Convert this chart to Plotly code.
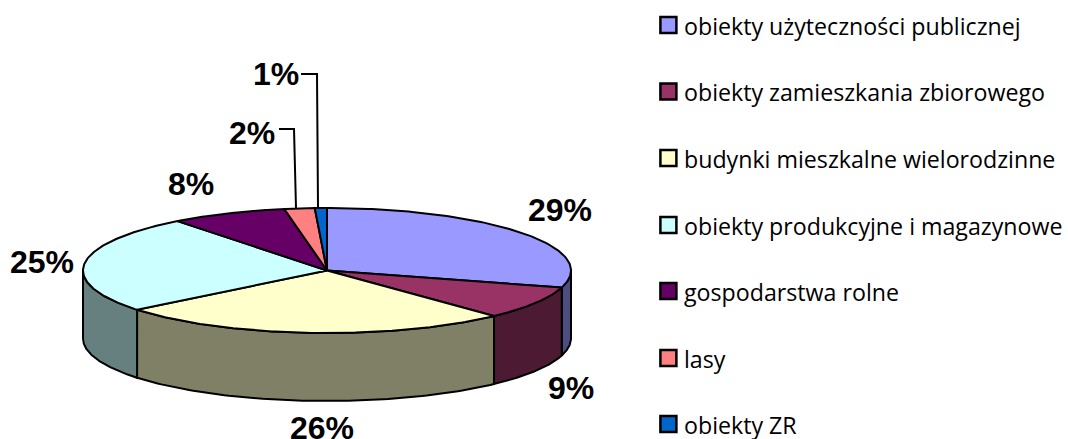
import numpy as np
import plotly.graph_objects as go

categories = ["obiekty użyteczności publicznej", "obiekty zamieszkania zbiorowego",
              "budynki mieszkalne wielorodzinne", "obiekty produkcyjne i magazynowe",
              "gospodarstwa rolne", "lasy", "obiekty ZR"]
shares = [29.4, 8.6, 26.2, 25.3, 7.7, 2.0, 0.8]
top_colors = ["#9999FF", "#993366", "#FFFFCC", "#CCFFFF", "#660066", "#FF8080", "#0066CC"]
side_colors = ["#4D4D80", "#4D1A33", "#808066", "#668080", "#330033", "#804040", "#003366"]
label_text = ["29%", "9%", "26%", "25%", "8%", "2%", "1%"]
label_x = [560, 571, 322, 42, 191, 252, 276]
label_y = [210, 388, 428, 262, 184, 133, 74]
legend_y = [25, 91.5, 158, 225, 291, 358, 424]

CX, CY, RX, RY, DEPTH = 327, 270.5, 244, 62.5, 68
W, H = 1068, 439
LW = 2


def px(theta, dy=0):
    return CX + RX * np.sin(theta), CY - RY * np.cos(theta) + dy


fig = go.Figure()
edges = np.concatenate([[0], np.cumsum(shares)]) / sum(shares) * 2 * np.pi

# side walls: only the front half of the rim is visible
for i in range(len(shares)):
    a, b = max(edges[i], np.pi / 2), min(edges[i + 1], 3 * np.pi / 2)
    if b <= a:
        continue
    t = np.linspace(a, b, 80)
    x1, y1 = px(t)
    x2, y2 = px(t[::-1], DEPTH)
    fig.add_trace(go.Scatter(x=np.r_[x1, x2, x1[0]], y=np.r_[y1, y2, y1[0]], mode="lines",
                             fill="toself", fillcolor=side_colors[i],
                             line=dict(color="black", width=LW), showlegend=False, hoverinfo="skip"))

# top face
for i in range(len(shares)):
    t = np.linspace(edges[i], edges[i + 1], 120)
    x1, y1 = px(t)
    fig.add_trace(go.Scatter(x=np.r_[CX, x1, CX], y=np.r_[CY, y1, CY], mode="lines",
                             fill="toself", fillcolor=top_colors[i],
                             line=dict(color="black", width=LW), showlegend=False,
                             name=categories[i], hoverinfo="name"))

# legend: swatches and names
for i, c in enumerate(categories):
    fig.add_trace(go.Scatter(x=[668.4], y=[legend_y[i]], mode="markers", name=c, showlegend=False,
                             marker=dict(symbol="square", size=16, color=top_colors[i],
                                         line=dict(color="black", width=2.5))))
    fig.add_annotation(x=682, y=legend_y[i] + 0.5, text=c, showarrow=False, xanchor="left",
                       font=dict(family="Open Sans", size=23.2, color="black"))

# leader lines
for lx, ly in ([[279, 294, 296], [129, 129, 208]], [[301, 317, 318], [74, 74, 207]]):
    fig.add_trace(go.Scatter(x=lx, y=ly, mode="lines", line=dict(color="black", width=LW),
                             showlegend=False, hoverinfo="skip"))

for tx, lxp, lyp in zip(label_text, label_x, label_y):
    fig.add_annotation(x=lxp, y=lyp, text=f"<b>{tx}</b>", showarrow=False,
                       font=dict(family="Liberation Sans", size=32, color="black"))

fig.update_layout(
    width=W, height=H, margin=dict(l=0, r=0, t=0, b=0), showlegend=False,
    paper_bgcolor="white", plot_bgcolor="white",
    xaxis=dict(range=[0, W], visible=False, fixedrange=True),
    yaxis=dict(range=[H, 0], visible=False, fixedrange=True),
)
fig.write_html("out.html", config=dict(displayModeBar=False),
               post_script="document.body.style.margin='0';document.documentElement.style.overflow='hidden';")
